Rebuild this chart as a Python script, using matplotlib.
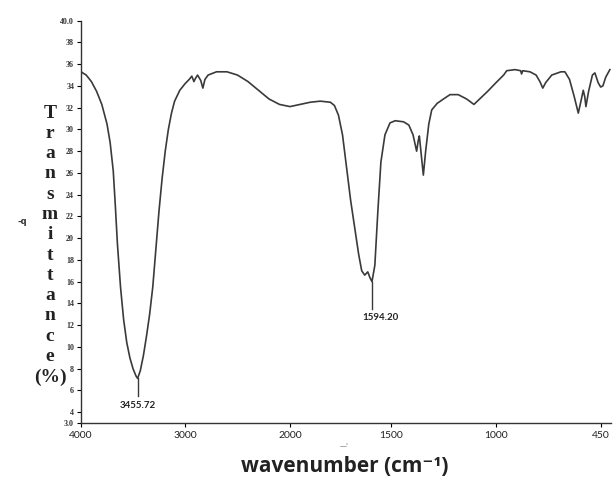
import numpy as np
import matplotlib
matplotlib.use("Agg")
import matplotlib.pyplot as plt

# ---- data ----
wavenumber = [4000, 3950, 3900, 3850, 3800, 3750, 3720, 3690, 3670, 3650, 3620, 3590,
              3560, 3530, 3500, 3470, 3455.72, 3430, 3400, 3370, 3340, 3310, 3280, 3250,
              3220, 3190, 3160, 3130, 3100, 3050, 3000, 2960, 2935, 2915, 2900, 2880,
              2850, 2830, 2810, 2780, 2700, 2600, 2500, 2400, 2300, 2200, 2100, 2000,
              1950, 1900, 1850, 1800, 1780, 1760, 1740, 1720, 1700, 1680, 1660, 1645,
              1630, 1615, 1605, 1594.20, 1580, 1565, 1550, 1530, 1505, 1480, 1440, 1415,
              1395, 1378, 1370, 1365, 1355, 1346, 1335, 1320, 1306, 1280, 1250, 1219,
              1180, 1140, 1105, 1067, 1040, 1000, 960, 944, 900, 871, 866, 860, 822,
              790, 770, 755, 740, 708, 660, 639, 615, 590, 569, 555, 543, 535, 529,
              515, 495, 482, 465, 452, 440, 425, 403]
transmittance = [35.3, 35.0, 34.4, 33.5, 32.3, 30.5, 28.8, 26.2, 23.0, 19.5, 15.5, 12.5,
                 10.4, 9.0, 8.0, 7.3, 7.1, 7.8, 9.2, 11.0, 13.0, 15.5, 19.0, 22.5,
                 25.5, 28.0, 30.0, 31.5, 32.6, 33.6, 34.2, 34.6, 34.9, 34.4, 34.7, 35.0,
                 34.5, 33.8, 34.6, 35.0, 35.3, 35.3, 35.0, 34.4, 33.6, 32.8, 32.3, 32.1,
                 32.3, 32.5, 32.6, 32.5, 32.2, 31.3, 29.5, 26.5, 23.5, 21.0, 18.5, 17.0,
                 16.6, 16.9, 16.4, 16.0, 17.5, 22.5, 27.0, 29.5, 30.6, 30.8, 30.7, 30.4,
                 29.5, 28.0, 29.0, 29.4, 27.5, 25.8, 28.0, 30.5, 31.8, 32.4, 32.8, 33.2,
                 33.2, 32.8, 32.3, 33.0, 33.5, 34.3, 35.0, 35.4, 35.5, 35.4, 35.1, 35.4, 35.3,
                 35.0, 34.4, 33.8, 34.3, 35.0, 35.3, 35.3, 34.6, 33.0, 31.5, 32.6, 33.6, 33.0, 32.1,
                 33.5, 35.0, 35.2, 34.3, 33.9, 34.0, 34.8, 35.5]

x_ticks = [4000, 3000, 2000, 1500, 1000, 450]
x_tick_labels = ["4000", "3000", "2000", "1500", "1000", "450"]
y_ticks = [40, 38, 36, 34, 32, 30, 28, 26, 24, 22, 20, 18, 16, 14, 12, 10, 8, 6, 4, 3]
y_tick_labels = ["40.0", "38", "36", "34", "32", "30", "28", "26", "24", "22", "20",
                 "18", "16", "14", "12", "10", "8", "6", "4", "3.0"]
peaks = [3455.72, 1594.20]
peak_labels = ["3455.72", "1594.20"]

# ---- piecewise axis (FTIR scale change) ----
anchor_wn = np.array([0, 397, 450, 1000, 1500, 2000, 3000, 4000, 10000], dtype=float)
anchor_px = np.array([687, 611, 601, 496, 391, 290, 185, 81, -543], dtype=float)
anchor_f = -anchor_px  # increasing with wavenumber


def fwd(w):
    return np.interp(w, anchor_wn, anchor_f)


def inv(v):
    return np.interp(v, anchor_f, anchor_wn)


W, H = 614, 484
fig = plt.figure(figsize=(W / 100, H / 100), dpi=100)
ax = fig.add_axes([81 / W, 1 - 423 / H, (611 - 81) / W, (423 - 20.7) / H])
ax.set_xscale("function", functions=(fwd, inv))
ax.plot(wavenumber, transmittance, color="#3a3a3a", lw=1.2)
ax.set_xlim(4000, 397)
ax.set_ylim(3.0, 40.0)

for sp in ("top", "right"):
    ax.spines[sp].set_visible(False)
for sp in ("left", "bottom"):
    ax.spines[sp].set_color("#333333")
    ax.spines[sp].set_linewidth(1.0)

ax.set_xticks(x_ticks)
ax.set_xticklabels(x_tick_labels, fontsize=7.5, family="Lato", color="#222222")
ax.minorticks_off()
ax.set_yticks(y_ticks)
ax.set_yticklabels(y_tick_labels, fontsize=5.8, family="Liberation Serif",
                   fontweight="bold", color="#333333")
ax.tick_params(axis="x", length=3, width=0.8, pad=3)
ax.tick_params(axis="y", length=3, width=0.8, pad=2)

# peak markers
t_of = dict(zip(wavenumber, transmittance))
ax.plot([peaks[0], peaks[0]], [t_of[peaks[0]], 5.5], color="#3a3a3a", lw=1.0)
ax.text(peaks[0], 4.6, peak_labels[0], ha="center", va="center", fontsize=7,
        family="Lato", fontweight="bold", color="#222222")
ax.plot([peaks[1], peaks[1]], [t_of[peaks[1]], 13.5], color="#3a3a3a", lw=1.0)
ax.text(1640, 12.7, peak_labels[1], ha="left", va="center", fontsize=7,
        family="Lato", fontweight="bold", color="#222222")

# vertical stacked y label
letters = list("Transmittance") + ["(%)"]
y0, dy = 113, 20.3
for i, ch in enumerate(letters):
    fig.text(50 / W, 1 - (y0 + i * dy) / H, ch, ha="center", va="center",
             fontsize=14, family="Liberation Serif", fontweight="bold", color="#222222")

fig.text(22 / W, 1 - 222 / H, "-q", ha="center", va="center", fontsize=6,
         fontweight="bold", color="#333333")
fig.text(344 / W, 1 - 446 / H, "—ˈ", ha="center", va="center", fontsize=5,
         color="#555555")

fig.text(345 / W, 1 - 466 / H, "wavenumber (cm⁻¹)", ha="center",
         va="center", fontsize=15, family=["Open Sans", "DejaVu Sans"],
         fontweight="bold", color="#222222")

fig.savefig("out.png", dpi=100)
